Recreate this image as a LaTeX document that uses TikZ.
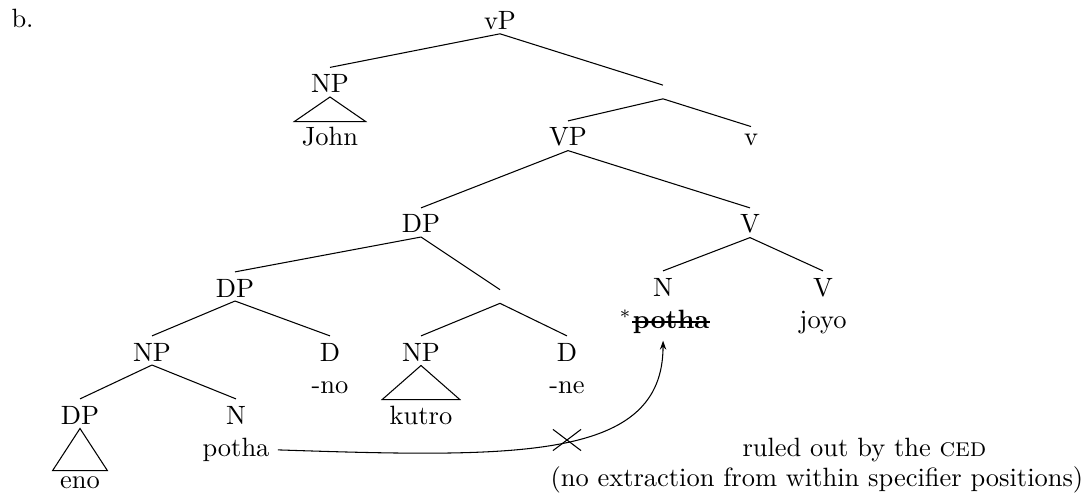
\documentclass[tikz,border=0pt]{standalone}
\usetikzlibrary{shapes.misc,arrows.meta}
\newcommand\tedge[2]{\draw ([yshift=-1.32pt]#1.south) -- ([yshift=2.46pt]#2.north);}
\newcommand\ttri[2]{\draw ([yshift=-1.5pt]#1.south) -- ([yshift=2.1pt]#2.north west) -- ([yshift=2.1pt]#2.north east) -- cycle;}
\begin{document}
\begin{tikzpicture}[x=0.378pt,y=-0.378pt,
  catnode/.style={anchor=base,inner sep=0pt},
  wordnode/.style={anchor=base,inner ysep=0pt,inner xsep=2.65pt},
  barpt/.style={inner sep=0pt},
  crossmark/.style={cross out,draw,inner sep=0pt,minimum width=10.2pt,minimum height=7.6pt},
  moveline/.style={-{Stealth[length=3.4pt,width=2.4pt]}}]
\useasboundingbox (0,0) rectangle (1086,493);
\node[catnode,anchor=base west] (lab) at (11,28) {b.};
% nodes
\node[catnode] (vP) at (500,29.5) {vP};
\node[catnode] (NPa) at (330,92.5) {NP};
\node[wordnode] (john) at (330,146) {John};
\node[barpt] (b1) at (663,93.5) {};
\node[catnode] (VP) at (568,146) {VP};
\node[catnode] (vv) at (751,145) {v};
\node[catnode] (DPa) at (421,233) {DP};
\node[catnode] (Va) at (750,233) {V};
\node[catnode] (DPb) at (235,297) {DP};
\node[barpt] (b2) at (500,298) {};
\node[catnode] (Na) at (663,296) {N};
\node[catnode] (Vb) at (823,296) {V};
\node[catnode] (starpotha) at (671,328) {\textbf{potha}};
\node[catnode,anchor=base east] (star) at (starpotha.base west) {$^*$};
\node[catnode] (joyo) at (823,328) {joyo};
\node[catnode] (NPb) at (152,361) {NP};
\node[catnode] (Da) at (330,361) {D};
\node[catnode] (NPc) at (421,361) {NP};
\node[catnode] (Db) at (567,361) {D};
\node[catnode] (no) at (330,393) {-no};
\node[catnode] (ne) at (567,393) {-ne};
\node[catnode] (DPc) at (80,424) {DP};
\node[catnode] (Nb) at (236,424) {N};
\node[wordnode] (kutro) at (421,424) {kutro};
\node[wordnode,inner xsep=3pt] (potha) at (236,456.5) {potha};
\node[wordnode] (eno) at (80,488.5) {eno};
\node[catnode,anchor=base west] (note1) at (742,456) {ruled out by the \textsc{ced}};
\node[catnode,anchor=base west] (note2) at (550,486.5) {(no extraction from within specifier positions)};
% strike-through
\draw[line width=0.6pt] ([yshift=2.3pt]starpotha.base west) -- ([yshift=2.3pt]starpotha.base east);
% edges
\tedge{vP}{NPa}
\tedge{vP}{b1}
\tedge{b1}{VP}
\tedge{b1}{vv}
\tedge{VP}{DPa}
\tedge{VP}{Va}
\tedge{DPa}{DPb}
\tedge{DPa}{b2}
\tedge{b2}{NPc}
\tedge{b2}{Db}
\tedge{DPb}{NPb}
\tedge{DPb}{Da}
\tedge{NPb}{DPc}
\tedge{NPb}{Nb}
\tedge{Va}{Na}
\tedge{Va}{Vb}
% triangles
\ttri{NPa}{john}
\ttri{NPc}{kutro}
\ttri{DPc}{eno}
% movement
\draw[moveline] (potha.east) .. controls (520,458) and (663,460) .. ([xshift=-3pt,yshift=-2.65pt]starpotha.south);
\node[crossmark] (cross) at (567,440) {};
\end{tikzpicture}
\end{document}
